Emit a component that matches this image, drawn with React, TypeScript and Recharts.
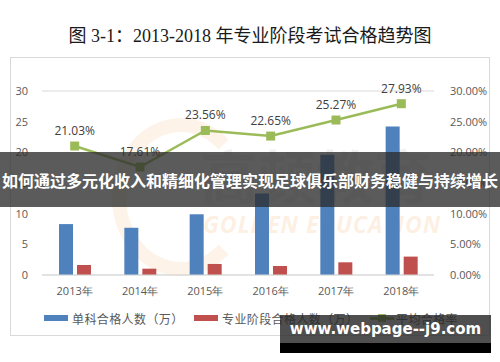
import { ComposedChart, Bar, Line, XAxis, YAxis, CartesianGrid, LabelList } from 'recharts'

const years = ['2013年', '2014年', '2015年', '2016年', '2017年', '2018年']
const singlePass = [8.3, 7.7, 9.9, 13.3, 19.6, 24.2]
const stagePass = [1.63, 1.03, 1.8, 1.47, 2.07, 3.0]
const passRate = [21.03, 17.61, 23.56, 22.65, 25.27, 27.93]
const leftTicks = [0, 5, 10, 15, 20, 25, 30]
const rightTicks = [0, 5, 10, 15, 20, 25, 30]

const legendItems = [
  { name: '单科合格人数（万）', color: '#4F81BD', kind: 'bar', x: 44 },
  { name: '专业阶段合格人数（万）', color: '#C0504D', kind: 'bar', x: 194 },
  { name: '平均合格率', color: '#9BBB59', kind: 'line', x: 370 },
]

const data = years.map((y, i) => ({
  year: y,
  single: singlePass[i],
  stage: stagePass[i],
  rate: passRate[i],
}))

const tickStyle = { fill: '#595959', fontSize: 11, fontFamily: '"Open Sans", "Noto Sans", sans-serif' }

function Square(props: { cx?: number; cy?: number }) {
  const { cx, cy } = props
  if (cx == null || cy == null) return null
  return <rect x={cx - 4.5} y={cy - 4.5} width={9} height={9} fill="#9BBB59" />
}

export default function App() {
  return (
    <div style={{ position: 'fixed', left: 0, top: 0, width: 500, height: 362, background: '#fff', overflow: 'hidden' }}>
      <div
        style={{
          position: 'absolute',
          left: 0,
          top: 21,
          width: 500,
          textAlign: 'center',
          fontSize: 18,
          color: '#1a1a1a',
          fontFamily: '"Liberation Serif", "DejaVu Serif", "Noto Sans CJK SC", serif',
        }}
      >
        图 3-1：2013-2018 年专业阶段考试合格趋势图
      </div>
      <div
        style={{
          position: 'absolute',
          left: 10,
          top: 57,
          width: 478,
          height: 277,
          border: '1px solid #d9d9d9',
        }}
      />
      {/* faint watermark */}
      <div
        style={{
          position: 'absolute',
          left: 112,
          top: 118,
          width: 110,
          height: 130,
          borderRadius: '50%',
          border: '14px solid rgba(246, 196, 140, 0.2)',
          borderRightColor: 'transparent',
        }}
      />
      <div
        style={{
          position: 'absolute',
          left: 200,
          top: 145,
          fontSize: 58,
          fontWeight: 700,
          color: 'rgba(200,200,200,0.25)',
          fontFamily: '"Noto Sans CJK SC", sans-serif',
          lineHeight: 1,
        }}
      >
        高顿教育
      </div>
      <div
        style={{
          position: 'absolute',
          left: 203,
          top: 208,
          fontSize: 23,
          fontStyle: 'italic',
          fontWeight: 700,
          color: 'rgba(248,200,150,0.3)',
          fontFamily: '"Open Sans", sans-serif',
          letterSpacing: 1,
        }}
      >
        GOLDEN EDUCATION
      </div>
      <div style={{ position: 'absolute', left: 0, top: 0 }}>
        <ComposedChart
          width={500}
          height={362}
          data={data}
          margin={{ top: 91, right: 6, bottom: 67, left: 12 }}
          barSize={14}
          barGap={4}
        >
          <CartesianGrid vertical={false} stroke="#d9d9d9" />
          <XAxis
            dataKey="year"
            tick={tickStyle}
            tickLine={false}
            axisLine={{ stroke: '#d9d9d9' }}
            height={20}
            tickMargin={6}
          />
          <YAxis
            yAxisId="left"
            domain={[0, 30]}
            ticks={leftTicks}
            width={30}
            tick={tickStyle}
            tickLine={false}
            axisLine={false}
            tickMargin={8}
          />
          <YAxis
            yAxisId="right"
            orientation="right"
            domain={[0, 30]}
            ticks={rightTicks}
            width={60}
            tick={{ ...tickStyle, textAnchor: 'start' }}
            tickLine={false}
            axisLine={false}
            tickMargin={10}
            tickFormatter={(v: number) => `${v.toFixed(2)}%`}
          />
          <Bar yAxisId="left" dataKey="single" fill="#4F81BD" isAnimationActive={false} />
          <Bar yAxisId="left" dataKey="stage" fill="#C0504D" isAnimationActive={false} />
          <Line
            yAxisId="right"
            dataKey="rate"
            stroke="#9BBB59"
            strokeWidth={2.5}
            dot={<Square />}
            activeDot={false}
            isAnimationActive={false}
          >
            <LabelList
              dataKey="rate"
              position="top"
              offset={11}
              formatter={(v: number) => `${v.toFixed(2)}%`}
              style={{ fill: '#404040', fontSize: 12, fontFamily: '"Open Sans", "Noto Sans", sans-serif' }}
            />
          </Line>
        </ComposedChart>
      </div>
      {/* legend */}
      {legendItems.map((it) => (
        <div
          key={it.name}
          style={{
            position: 'absolute',
            left: it.x,
            top: 309,
            height: 18,
            display: 'flex',
            alignItems: 'center',
            fontSize: 12,
            color: '#595959',
            letterSpacing: 0.4,
            fontFamily: '"Noto Sans CJK SC", sans-serif',
            whiteSpace: 'nowrap',
          }}
        >
          {it.kind === 'bar' ? (
            <span style={{ display: 'inline-block', width: 24, height: 6, background: it.color, marginRight: 4 }} />
          ) : (
            <span style={{ position: 'relative', display: 'inline-block', width: 24, height: 8, marginRight: 2 }}>
              <span style={{ position: 'absolute', left: 0, top: 3, width: 24, height: 2.5, background: it.color }} />
              <span style={{ position: 'absolute', left: 8, top: 0, width: 8, height: 8, background: it.color }} />
            </span>
          )}
          <span>{it.name}</span>
        </div>
      ))}
      {/* overlay banner */}
      <div
        style={{
          position: 'absolute',
          left: 0,
          top: 152,
          width: 500,
          height: 55,
          background: 'rgba(45,45,45,0.78)',
          display: 'flex',
          alignItems: 'center',
          justifyContent: 'center',
          color: '#fff',
          fontWeight: 700,
          fontSize: 16,
          fontFamily: '"Noto Sans CJK SC", sans-serif',
          whiteSpace: 'nowrap',
        }}
      >
        如何通过多元化收入和精细化管理实现足球俱乐部财务稳健与持续增长
      </div>
      {/* site watermark */}
      <div
        style={{
          position: 'absolute',
          left: 280,
          top: 315,
          width: 211,
          height: 28,
          background: 'rgba(40,40,40,0.82)',
        }}
      />
      <div style={{ position: 'absolute', left: 280, top: 343, width: 211, height: 10, background: '#000' }} />
      <div
        style={{
          position: 'absolute',
          left: 280,
          top: 318,
          width: 211,
          textAlign: 'center',
          color: '#fff',
          fontWeight: 700,
          fontSize: 15,
          lineHeight: '22px',
          whiteSpace: 'nowrap',
          fontFamily: '"DejaVu Sans", sans-serif',
        }}
      >
        www.webpage--j9.com
      </div>
    </div>
  )
}
